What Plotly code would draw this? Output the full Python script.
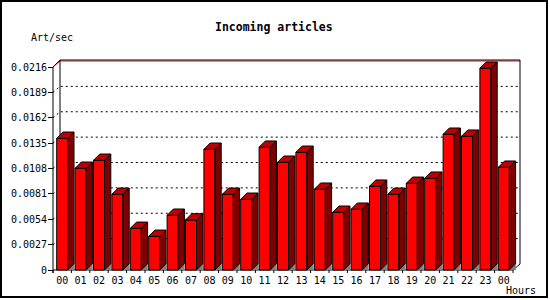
import plotly.graph_objects as go

# ---- data ----
hours = ["00", "01", "02", "03", "04", "05", "06", "07", "08", "09", "10", "11",
         "12", "13", "14", "15", "16", "17", "18", "19", "20", "21", "22", "23", "00"]
rates = [0.01401, 0.01082, 0.01167, 0.00805, 0.00443, 0.00358, 0.00582, 0.00532,
         0.01284, 0.00805, 0.00752, 0.01306, 0.01146, 0.01252, 0.00859, 0.00614,
         0.00646, 0.00891, 0.00805, 0.00922, 0.00976, 0.01444, 0.01423, 0.02146,
         0.01093]
y_ticks = [0, 0.0027, 0.0054, 0.0081, 0.0108, 0.0135, 0.0162, 0.0189, 0.0216]
y_tick_labels = ["0", "0.0027", "0.0054", "0.0081", "0.0108", "0.0135",
                 "0.0162", "0.0189", "0.0216"]
title_text = "Incoming articles"
y_title = "Art/sec"
x_title = "Hours"

# ---- layout constants (pixels) ----
W, H = 550, 300
L, R, T, B = 48, 524, 56, 273          # plot area
X0, XU = 53, 18.4                      # pixel of x=-0.5, pixels per category
Y0 = 270                               # pixel of value 0
YMAX = y_ticks[-1]
YPX = 203 / YMAX                       # pixels per value unit

def ux(p):
    return p / XU

def uy(p):
    return p / YPX

xr = [-0.5 - ux(X0 - L), -0.5 + ux(R - X0)]
yr = [-uy(B - Y0), uy(Y0 - T)]

n = len(hours)
xa, xb = -0.5, n - 0.5
dxb, dyb = ux(7), uy(6)      # depth of the box
dx, dy = ux(6.3), uy(6.3)    # depth of bars
bw = ux(11)                  # bar front width

FONT = "DejaVu Sans Mono"

shapes = []

def path_shape(pts, color, dash="solid", width=1):
    d = "M" + " L".join(f"{x},{y}" for x, y in pts)
    shapes.append(dict(type="path", xref="x", yref="y", path=d, layer="below",
                       line=dict(color=color, width=width, dash=dash)))

# dotted grid on the back wall (plus left wall diagonal)
for v in y_ticks[1:-1]:
    path_shape([(xa, v), (xa + dxb, v + dyb), (xb + dxb, v + dyb)], "black", "2px,3px")

# red max line
path_shape([(xa, YMAX), (xa + dxb, YMAX + dyb), (xb + dxb, YMAX + dyb)], "#ff0000")
# frame
top_b = YMAX + dyb + uy(1)
path_shape([(xa, -uy(3)), (xa, YMAX), (xa + dxb, top_b), (xb + dxb, top_b),
            (xb + dxb, dyb)], "black")
path_shape([(xa + dxb, dyb), (xa + dxb, top_b)], "black")
path_shape([(xa, 0), (xb, 0), (xb + dxb, dyb)], "black")

# border of the image (paper coords)
def px2paper_x(p):
    return (p - L) / (R - L)

def px2paper_y(p):
    return (B - p) / (B - T)

shapes.append(dict(type="rect", xref="paper", yref="paper",
                   x0=px2paper_x(1), x1=px2paper_x(547), y0=px2paper_y(1), y1=px2paper_y(297),
                   line=dict(color="black", width=2), layer="above"))

fig = go.Figure()

# front faces
fig.add_trace(go.Bar(x=list(range(n)), y=rates, width=bw,
                     marker=dict(color="#ff0000", line=dict(color="black", width=1)),
                     hoverinfo="skip"))

def polys(builder):
    xs, ys = [], []
    for i, v in enumerate(rates):
        for (px_, py_) in builder(i, v):
            xs.append(px_)
            ys.append(py_)
        xs.append(None)
        ys.append(None)
    return xs, ys

def shadow(i, v):
    xr_ = i + bw / 2
    return [(xr_, 0), (xr_ + dx, dy), (xr_ + dx, 0), (xr_, 0)]

def side(i, v):
    xr_ = i + bw / 2
    return [(xr_, 0), (xr_, v), (xr_ + dx, v + dy), (xr_ + dx, dy), (xr_, 0)]

def top(i, v):
    xl_, xr_ = i - bw / 2, i + bw / 2
    return [(xl_, v), (xl_ + dx, v + dy), (xr_ + dx, v + dy), (xr_, v), (xl_, v)]

sx, sy = polys(shadow)
fig.add_trace(go.Scatter(x=sx, y=sy, mode="lines", fill="toself", fillcolor="#808080",
                         line=dict(color="#808080", width=0.5), hoverinfo="skip"))
sx, sy = polys(side)
fig.add_trace(go.Scatter(x=sx, y=sy, mode="lines", fill="toself", fillcolor="#800000",
                         line=dict(color="black", width=1), hoverinfo="skip"))
sx, sy = polys(top)
fig.add_trace(go.Scatter(x=sx, y=sy, mode="lines", fill="toself", fillcolor="#c00000",
                         line=dict(color="black", width=1), hoverinfo="skip"))

# x boundary ticks
tx, ty = [], []
for k in range(n + 1):
    tx += [xa + k, xa + k, None]
    ty += [0, -uy(3), None]
fig.add_trace(go.Scatter(x=tx, y=ty, mode="lines", line=dict(color="black", width=1),
                         hoverinfo="skip"))

annotations = [
    dict(text=f"<b>{title_text}</b>", xref="paper", yref="paper",
         x=px2paper_x(274), y=px2paper_y(27), xanchor="center", yanchor="middle",
         showarrow=False, font=dict(family=FONT, size=11.5, color="black")),
    dict(text=y_title, xref="paper", yref="paper",
         x=px2paper_x(29), y=px2paper_y(37), xanchor="left", yanchor="middle",
         showarrow=False, font=dict(family=FONT, size=10, color="black")),
    dict(text=x_title, xref="paper", yref="paper",
         x=px2paper_x(504), y=px2paper_y(290), xanchor="left", yanchor="middle",
         showarrow=False, font=dict(family=FONT, size=10, color="black")),
]

fig.update_layout(
    width=W, height=H,
    margin=dict(l=L, r=W - R, t=T, b=H - B, pad=0),
    paper_bgcolor="white", plot_bgcolor="white",
    showlegend=False,
    shapes=shapes,
    annotations=annotations,
    xaxis=dict(range=xr, showgrid=False, zeroline=False, showline=False,
               tickmode="array", tickvals=list(range(n)), ticktext=hours, ticks="",
               tickfont=dict(family=FONT, size=10, color="black"), fixedrange=True),
    yaxis=dict(range=yr, showgrid=False, zeroline=False, showline=False,
               tickmode="array", tickvals=y_ticks, ticktext=y_tick_labels,
               ticks="inside", ticklen=5, tickcolor="black", tickwidth=1,
               tickfont=dict(family=FONT, size=10, color="black"), fixedrange=True),
)

fig.write_html("out.html")
